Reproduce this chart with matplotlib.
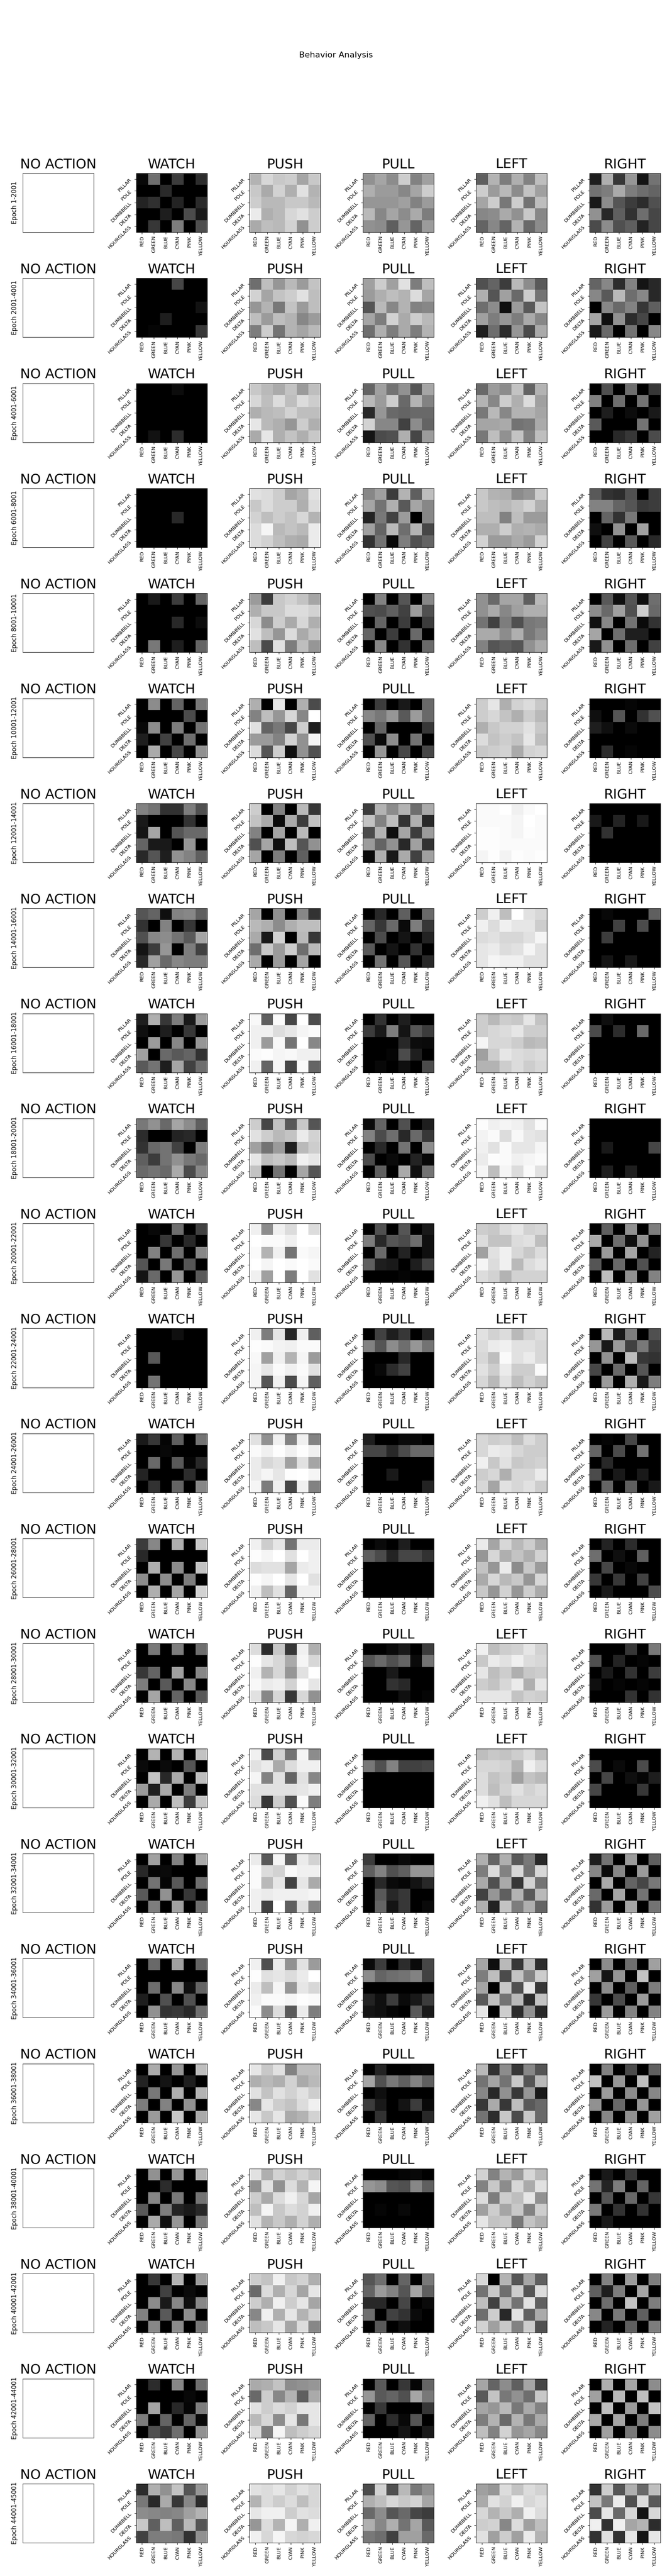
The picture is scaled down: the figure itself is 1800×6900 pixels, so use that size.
# -*- coding: utf-8 -*-
"""
Behavior Analysis: action x (shape, colour) grey heatmaps per epoch range
"""
import numpy as np
import matplotlib
matplotlib.use("Agg")
import matplotlib.pyplot as plt

actions = ["NO ACTION", "WATCH", "PUSH", "PULL", "LEFT", "RIGHT"]
colors = ["RED", "GREEN", "BLUE", "CYAN", "PINK", "YELLOW"]
shapes = ["PILLAR", "POLE", "DUMBBELL", "DELTA", "HOURGLASS"]
epochs = ["1-2001", "2001-4001", "4001-6001", "6001-8001", "8001-10001", "10001-12001",
          "12001-14001", "14001-16001", "16001-18001", "18001-20001", "20001-22001",
          "22001-24001", "24001-26001", "26001-28001", "28001-30001", "30001-32001",
          "32001-34001", "34001-36001", "36001-38001", "38001-40001", "40001-42001",
          "42001-44001", "44001-45001"]

#grey levels, one line per epoch, shape by shape
watch = [
    [8,110,0,60,0,45, 0,0,42,0,0,0, 35,48,0,35,0,42, 0,0,30,0,75,25, 0,55,0,125,0,78],
    [0,0,0,70,0,0, 0,0,0,0,0,0, 0,0,0,0,0,18, 0,0,30,0,0,0, 0,5,0,0,0,55],
    [0,0,0,12,0,0, 0,0,0,0,0,0, 0,0,0,0,0,0, 0,0,0,0,0,0, 0,18,0,45,0,0],
    [0,0,0,0,0,0, 0,0,0,0,0,0, 0,0,0,40,0,0, 0,0,0,0,0,0, 0,0,0,0,0,0],
    [0,25,0,60,0,100, 0,0,0,0,0,0, 0,0,0,40,0,12, 0,0,0,0,0,0, 0,120,0,30,0,100],
    [0,140,0,100,0,120, 0,0,0,0,75,0, 8,140,0,125,0,115, 30,0,65,0,110,0, 0,170,0,70,0,145],
    [130,115,50,50,125,80, 25,0,0,0,50,0, 20,165,0,85,105,105, 100,25,25,0,150,0, 40,85,30,145,130,95],
    [85,100,15,130,135,95, 50,0,130,0,55,0, 80,135,140,115,90,165, 20,60,150,0,125,65, 40,160,105,135,125,125],
    [30,175,55,125,25,155, 15,0,30,0,55,0, 0,155,0,135,0,150, 160,0,105,90,100,50, 90,115,30,165,65,110],
    [120,145,105,165,140,95, 45,0,0,35,40,0, 50,105,115,65,0,125, 95,60,115,145,120,105, 105,115,105,170,75,135],
    [0,8,0,110,0,65, 0,0,55,0,40,0, 0,130,0,110,0,135, 85,0,120,0,85,0, 20,105,0,150,0,90],
    [0,0,0,15,0,0, 0,0,0,0,0,0, 0,90,0,0,0,0, 0,0,0,0,0,0, 0,115,0,0,0,0],
    [25,55,5,95,0,115, 0,0,8,0,0,0, 0,105,0,90,5,40, 35,0,0,0,45,0, 0,50,0,100,0,135],
    [60,135,0,175,0,200, 40,0,0,0,0,0, 0,175,0,140,0,195, 140,0,140,0,125,0, 0,175,0,165,0,210],
    [0,120,0,125,0,110, 0,0,0,0,0,0, 55,100,0,160,0,135, 125,0,90,0,135,0, 0,165,0,100,0,90],
    [0,180,0,180,0,195, 10,0,10,0,85,0, 0,195,40,170,0,190, 155,30,170,0,125,0, 0,170,0,190,60,195],
    [0,160,0,130,0,170, 40,5,10,0,0,0, 0,115,5,90,0,110, 90,0,145,0,55,0, 0,125,0,160,0,110],
    [0,105,0,160,0,100, 0,0,0,0,0,0, 0,110,0,135,15,100, 30,0,80,0,80,0, 0,145,50,55,40,110],
    [0,170,0,150,0,190, 35,0,20,0,30,0, 0,120,0,175,0,180, 125,0,130,0,145,0, 0,155,0,200,0,170],
    [0,145,0,150,0,180, 0,0,45,0,0,0, 0,135,0,120,0,115, 90,0,125,35,25,40, 0,170,15,150,0,120],
    [0,55,0,180,0,155, 0,0,65,0,10,0, 0,140,25,135,15,135, 130,0,90,0,140,0, 0,135,0,140,0,120],
    [0,45,0,135,0,110, 0,0,0,0,8,0, 0,165,0,40,5,125, 125,0,100,0,100,8, 0,80,55,110,0,145],
    [45,175,145,195,85,150, 120,40,170,55,135,45, 140,135,130,135,160,180, 200,95,190,95,185,85, 65,125,125,120,50,145],
]
push = [
    [180,215,200,205,165,200, 200,170,210,175,225,180, 205,185,185,200,200,185, 235,175,185,215,225,205, 170,190,185,210,145,205],
    [110,190,150,185,155,195, 210,165,195,205,225,190, 150,180,120,195,155,190, 190,155,190,180,135,155, 125,205,115,180,165,185],
    [200,185,170,195,155,190, 215,190,220,190,220,205, 175,185,190,210,190,190, 230,185,175,150,205,175, 170,230,175,195,175,200],
    [225,220,205,165,180,225, 200,220,205,205,175,220, 210,190,205,195,215,180, 220,245,185,195,185,235, 220,210,190,175,170,235],
    [155,60,200,210,195,165, 175,200,200,220,220,210, 215,140,205,170,215,175, 225,190,150,220,170,195, 190,75,225,125,190,150],
    [175,0,230,0,175,75, 130,190,150,215,135,255, 225,100,120,70,205,30, 155,155,130,210,145,245, 220,85,205,15,145,80],
    [205,0,130,0,185,55, 195,170,10,170,60,195, 130,0,165,0,185,0, 80,165,15,190,85,145, 165,0,125,0,95,0],
    [165,0,145,0,135,50, 185,175,140,175,190,190, 170,25,210,0,185,55, 110,200,155,205,110,185, 170,0,155,0,165,0],
    [248,95,250,70,255,75, 240,240,220,230,245,250, 240,155,248,115,255,135, 250,253,245,248,240,240, 240,100,245,70,250,100],
    [205,70,195,90,200,85, 225,205,185,195,235,210, 160,115,155,30,185,205, 230,190,200,185,240,230, 195,0,115,0,165,85],
    [240,140,240,220,255,220, 255,250,250,240,255,255, 250,180,240,115,250,245, 255,245,255,250,255,250, 240,160,255,125,255,225],
    [240,125,230,40,240,95, 253,250,243,240,250,250, 248,160,240,180,245,155, 245,230,250,240,250,225, 245,85,240,75,245,95],
    [225,145,240,130,240,130, 250,240,253,240,253,240, 235,215,225,160,225,165, 235,245,230,253,255,245, 245,125,240,70,240,130],
    [240,205,230,115,235,235, 253,245,255,225,255,240, 220,225,225,165,235,240, 253,245,255,230,255,225, 240,190,225,100,240,240],
    [220,45,200,55,240,175, 253,230,215,170,245,215, 240,180,215,150,225,255, 248,235,240,210,253,230, 225,135,215,55,215,145],
    [240,75,210,115,245,140, 225,235,170,220,240,240, 245,130,225,100,225,135, 225,225,225,225,230,240, 220,55,205,80,250,125],
    [235,90,245,95,235,210, 250,220,210,250,240,240, 250,185,230,65,230,170, 240,235,240,240,240,245, 240,65,255,95,225,135],
    [240,80,235,145,225,155, 253,225,230,220,235,255, 235,190,245,150,230,215, 240,250,250,245,253,250, 250,140,220,90,235,125],
    [230,200,225,130,190,190, 175,185,175,210,170,185, 225,195,225,210,225,205, 135,230,205,195,220,240, 230,200,230,170,180,210],
    [225,175,210,195,210,195, 145,225,145,220,180,245, 205,170,220,240,215,165, 190,245,200,220,210,240, 225,180,200,175,210,175],
    [205,195,240,200,210,175, 105,220,175,215,165,230, 205,175,240,205,230,165, 135,240,175,230,180,210, 190,200,230,165,220,135],
    [170,175,195,140,145,150, 105,205,135,180,95,170, 225,205,220,210,230,230, 185,215,140,230,120,230, 220,125,245,190,205,215],
    [225,220,230,210,225,215, 180,220,205,220,190,215, 230,240,240,205,225,220, 150,220,180,245,175,240, 240,215,245,215,210,215],
]
pull = [
    [145,165,140,205,130,160, 175,155,155,135,165,205, 150,150,150,160,130,155, 185,135,165,140,170,125, 145,140,95,150,100,155],
    [160,205,160,225,125,190, 155,175,190,180,220,165, 85,185,135,180,130,135, 165,125,210,170,205,185, 110,175,125,170,125,180],
    [100,160,115,145,85,165, 185,155,205,105,180,130, 40,150,105,100,105,105, 210,135,135,65,140,100, 20,75,80,175,70,155],
    [135,160,60,180,95,190, 165,115,175,90,165,135, 35,120,65,155,0,135, 160,100,185,110,180,70, 50,115,10,125,80,100],
    [0,130,0,85,0,135, 80,75,95,65,155,80, 0,100,0,60,0,60, 100,0,60,0,105,0, 0,135,0,50,0,105],
    [0,60,0,25,0,105, 135,120,150,90,155,105, 0,100,0,0,0,55, 80,10,140,0,115,0, 0,150,0,70,0,70],
    [60,180,140,180,110,170, 195,130,190,50,175,40, 75,180,15,165,60,155, 155,100,145,40,160,50, 10,175,25,170,65,160],
    [0,40,0,95,0,105, 100,55,105,10,125,55, 0,75,0,20,0,35, 90,0,20,0,50,0, 0,115,0,85,0,40],
    [0,50,0,30,0,0, 60,25,125,20,85,60, 0,0,0,40,12,10, 0,0,5,75,30,0, 0,8,0,15,0,75],
    [10,100,0,80,0,30, 130,75,110,40,105,55, 0,40,0,115,0,140, 75,0,10,0,35,8, 0,95,0,170,15,115],
    [0,80,0,85,0,25, 125,40,85,75,110,15, 0,105,0,35,0,15, 95,30,25,0,30,65, 0,0,0,5,0,0],
    [0,65,30,55,0,35, 130,85,140,110,150,115, 0,0,0,40,0,0, 0,8,45,65,0,0, 0,0,0,0,0,0],
    [30,0,0,10,8,0, 70,70,40,75,105,105, 0,0,0,0,0,0, 0,0,25,0,0,0, 0,0,0,0,0,35],
    [0,10,0,30,0,0, 95,75,35,70,70,50, 0,0,0,0,0,0, 0,0,0,0,0,0, 0,0,0,0,0,0],
    [0,0,10,25,0,60, 85,105,80,100,10,115, 0,0,25,0,0,0, 0,0,50,40,0,0, 0,0,0,15,0,5],
    [0,0,0,0,0,0, 120,80,130,65,65,70, 0,0,0,0,0,0, 0,0,0,0,0,0, 0,0,0,0,0,0],
    [60,0,0,10,0,0, 95,130,80,95,150,150, 0,40,10,5,20,40, 0,90,40,55,0,0, 0,100,20,55,0,10],
    [10,60,0,45,10,70, 140,100,110,115,130,65, 0,0,0,0,0,0, 35,15,60,10,25,60, 20,15,5,0,90,25],
    [0,35,0,0,8,10, 165,80,120,95,130,95, 0,15,0,0,0,0, 60,25,0,20,60,8, 0,50,0,0,0,40],
    [0,0,0,5,8,0, 150,140,85,80,135,95, 0,0,0,0,0,0, 0,5,0,8,0,0, 0,0,0,0,0,0],
    [85,110,0,100,0,120, 100,155,130,85,165,95, 40,40,0,70,0,10, 110,0,65,50,10,0, 0,90,0,15,0,0],
    [0,90,0,55,5,100, 150,90,100,80,165,120, 0,55,0,0,0,55, 100,0,45,8,85,0, 0,0,0,20,0,25],
    [75,210,80,185,120,145, 175,190,215,200,210,165, 105,140,85,105,70,60, 175,135,175,115,165,90, 120,110,65,160,160,105],
]
left = [
    [95,180,125,175,130,190, 205,155,185,140,195,160, 165,205,120,205,115,190, 135,140,170,145,200,135, 100,135,100,180,105,140],
    [80,100,60,185,140,90, 175,85,160,105,205,115, 110,140,15,155,90,195, 160,125,150,125,170,135, 30,110,45,150,75,170],
    [105,155,140,195,100,180, 180,135,205,175,220,160, 120,185,135,180,180,165, 165,165,170,115,120,170, 120,190,145,195,130,190],
    [200,180,175,140,150,205, 200,190,185,195,210,175, 190,190,130,190,155,155, 175,175,205,175,180,170, 210,155,155,170,155,210],
    [145,105,165,165,95,185, 145,170,135,160,175,175, 115,65,125,80,120,125, 170,170,140,175,120,140, 130,85,95,85,145,170],
    [205,230,175,210,220,200, 205,215,195,175,205,185, 175,200,210,210,225,200, 220,195,205,195,230,190, 200,205,210,170,210,215],
    [250,250,255,240,250,255, 250,250,250,245,255,250, 253,253,250,245,253,250, 253,253,250,250,250,250, 245,253,243,253,250,253],
    [205,240,190,255,225,215, 240,220,240,230,230,205, 220,225,215,215,225,245, 230,235,220,225,245,225, 230,245,240,240,225,225],
    [205,185,205,200,230,195, 205,215,220,230,205,205, 245,215,215,205,185,190, 160,205,230,220,215,220, 180,180,205,220,205,215],
    [252,240,245,240,225,250, 243,250,220,248,230,225, 240,225,250,230,230,245, 235,252,250,240,245,250, 245,190,245,220,250,225],
    [205,200,220,230,210,215, 220,195,195,220,225,190, 160,225,240,215,200,220, 245,220,240,185,220,230, 220,210,180,210,210,210],
    [225,210,220,185,210,220, 220,235,240,225,225,215, 215,190,250,225,235,215, 225,205,235,205,205,250, 215,185,225,190,210,195],
    [215,205,210,190,220,205, 215,235,230,215,205,205, 240,200,225,200,205,210, 205,215,175,215,215,235, 215,165,225,215,225,205],
    [235,165,215,185,205,170, 150,215,175,195,175,210, 195,150,235,140,200,155, 170,215,185,200,150,215, 200,150,210,150,205,170],
    [240,190,205,210,230,210, 200,235,225,240,220,215, 230,190,205,175,200,205, 205,195,215,235,175,230, 230,230,230,195,210,205],
    [190,200,195,205,220,190, 215,215,210,180,240,220, 220,195,205,160,195,185, 220,190,210,225,210,220, 240,225,190,215,215,215],
    [175,100,175,90,120,40, 125,220,130,215,115,215, 170,80,170,55,210,115, 65,150,95,180,90,185, 175,35,195,125,175,100],
    [165,15,185,55,185,45, 125,190,75,195,130,205, 165,0,200,80,230,55, 90,190,115,185,45,195, 230,0,205,45,145,40],
    [185,50,140,55,135,85, 115,165,115,200,85,185, 135,40,145,55,150,25, 55,170,55,190,90,105, 115,45,200,75,200,105],
    [210,130,180,155,215,185, 130,200,140,215,170,225, 220,125,205,190,230,145, 160,205,165,200,130,205, 230,195,200,120,195,175],
    [215,0,180,85,165,95, 115,200,110,205,85,220, 190,65,185,115,225,95, 110,205,40,225,95,170, 210,160,200,130,205,80],
    [165,100,140,95,165,70, 90,195,120,145,110,200, 165,150,185,120,170,130, 125,180,105,180,120,170, 190,130,210,150,165,135],
    [160,150,220,195,220,210, 170,225,210,240,215,225, 215,180,200,175,240,220, 205,210,135,220,160,190, 225,160,205,160,235,180],
]
right = [
    [30,175,55,150,20,115, 115,125,170,125,110,100, 25,140,85,60,45,80, 145,40,95,50,110,70, 75,140,80,95,35,70],
    [100,135,45,130,20,40, 135,90,185,110,135,40, 0,135,105,130,55,95, 165,15,145,45,70,0, 25,105,0,115,0,135],
    [0,80,0,110,0,55, 130,0,110,0,115,0, 0,30,0,12,0,25, 90,0,0,0,115,0, 0,0,40,55,0,75],
    [90,50,45,80,0,60, 130,130,100,85,55,60, 0,100,50,120,0,0, 15,0,145,0,160,0, 0,65,0,90,0,40],
    [0,90,15,85,15,110, 140,105,160,80,205,105, 15,135,0,115,10,50, 165,0,110,30,30,0, 25,145,0,110,0,65],
    [0,0,0,5,0,0, 15,0,85,0,50,80, 30,15,0,10,0,0, 0,0,0,0,0,0, 0,45,0,5,0,0],
    [0,0,0,0,0,0, 25,0,35,0,25,0, 0,50,0,0,0,0, 0,0,0,0,0,0, 0,0,0,0,0,0],
    [0,8,0,0,0,95, 0,0,65,0,75,0, 0,60,0,0,0,0, 0,0,0,0,0,0, 0,20,0,25,0,0],
    [0,15,0,0,0,0, 75,0,45,0,105,0, 0,0,0,0,0,0, 0,0,0,0,0,0, 0,0,0,0,0,0],
    [0,0,0,0,0,0, 0,0,0,0,0,0, 0,25,0,0,0,70, 0,0,0,0,0,0, 0,30,0,30,0,0],
    [0,95,0,145,0,125, 170,0,110,15,145,0, 0,155,0,165,0,35, 85,0,105,0,80,0, 0,190,0,145,0,130],
    [0,185,25,125,0,80, 150,25,155,65,120,60, 0,145,0,190,55,50, 70,0,105,0,85,0, 0,155,0,175,25,125],
    [0,5,0,70,0,0, 100,0,75,0,115,0, 0,40,0,0,0,0, 75,0,25,0,25,0, 0,100,0,95,0,25],
    [0,35,0,45,0,0, 110,0,15,0,95,0, 0,70,0,8,0,0, 55,0,55,0,65,0, 0,25,0,0,0,75],
    [0,0,0,55,0,120, 80,0,35,0,5,0, 0,25,0,50,0,60, 15,0,5,0,5,0, 0,0,0,50,0,50],
    [0,0,0,0,0,0, 75,0,10,0,75,0, 0,70,0,15,5,30, 70,0,0,0,55,0, 0,0,0,0,0,0],
    [30,115,0,155,0,95, 135,10,135,0,155,0, 0,170,0,100,70,120, 105,0,165,0,115,0, 50,155,0,165,0,115],
    [0,140,0,110,0,160, 160,20,150,0,195,0, 0,140,0,95,0,125, 55,0,75,0,155,0, 0,155,0,130,0,130],
    [0,130,0,75,0,95, 195,0,150,0,190,0, 0,155,0,140,0,135, 145,0,105,0,150,0, 0,135,0,145,0,160],
    [0,25,0,55,0,0, 115,35,125,0,100,0, 0,85,0,105,0,55, 120,0,50,0,50,0, 0,25,0,0,0,0],
    [0,130,0,155,0,125, 95,30,125,0,165,0, 0,110,0,195,0,125, 135,0,120,0,95,0, 0,35,0,95,0,125],
    [0,175,0,165,0,140, 160,0,185,0,190,0, 0,190,0,155,0,195, 170,0,165,0,125,0, 0,160,0,120,0,140],
    [50,205,85,175,105,190, 195,120,235,80,220,90, 75,230,105,215,20,215, 240,50,240,165,180,45, 50,225,50,230,20,230],
]
panels = [None, watch, push, pull, left, right]

fig, axes = plt.subplots(len(epochs), len(actions), figsize=(18, 69), dpi=100)
fig.subplots_adjust(left=61/1800, right=1769/1800, top=1-464/6900, bottom=1-6811/6900,
                    wspace=113.6/190, hspace=123.3/158)
fig.suptitle("Behavior Analysis", fontsize=16)

for i, epoch in enumerate(epochs):
    for j, action in enumerate(actions):
        ax = axes[i, j]
        ax.set_title(action, fontsize=26, pad=10)
        if panels[j] is None:
            #NO ACTION has no data, only the empty frame
            ax.set_xticks([])
            ax.set_yticks([])
            ax.set_ylabel("Epoch " + epoch, fontsize=12, labelpad=9)
            continue
        grid = np.array(panels[j][i]).reshape(len(shapes), len(colors))
        ax.imshow(grid, cmap="gray", vmin=0, vmax=255, aspect="auto", interpolation="nearest")
        ax.set_xticks(range(len(colors)))
        ax.set_xticklabels(colors, rotation=90, fontsize=9.5)
        ax.set_yticks(range(len(shapes)))
        ax.set_yticklabels(shapes, rotation=45, fontsize=9.5)

fig.savefig("out.png", dpi=100)
